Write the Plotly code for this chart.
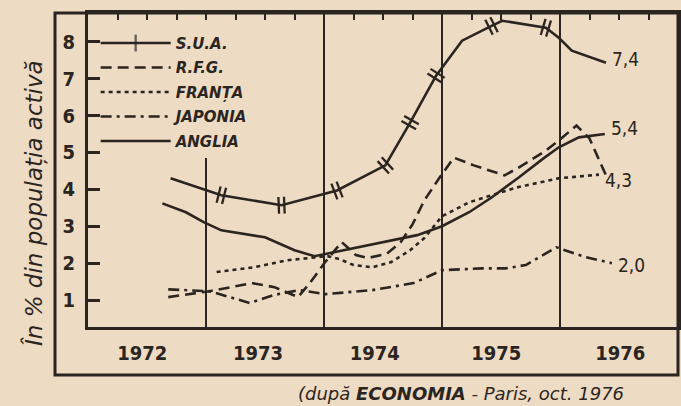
import math
import plotly.graph_objects as go

INK = "#2b2521"
PAPER = "#eedbc3"

# ---------------- data ----------------
usa_x = [1972.70, 1973.13, 1973.64, 1974.11, 1974.52, 1974.73, 1974.95, 1975.17,
         1975.42, 1975.51, 1975.88, 1975.99, 1976.10, 1976.39]
usa_y = [4.30, 3.84, 3.57, 3.97, 4.65, 5.81, 7.08, 8.03,
         8.43, 8.57, 8.38, 8.11, 7.76, 7.43]
usa_marks = [1, 2, 3, 4, 5, 6, 8, 10]   # vertices carrying the "||" sign

rfg_x = [1972.68, 1973.03, 1973.39, 1973.58, 1973.78, 1973.88, 1974.01, 1974.15,
         1974.27, 1974.37, 1974.53, 1974.65, 1974.75, 1974.85, 1974.98, 1975.10,
         1975.27, 1975.53, 1975.65, 1975.88, 1976.01, 1976.14, 1976.25, 1976.39]
rfg_y = [1.08, 1.24, 1.46, 1.35, 1.08, 1.46, 2.03, 2.57,
         2.22, 2.14, 2.25, 2.57, 3.05, 3.70, 4.32, 4.86,
         4.65, 4.38, 4.59, 5.05, 5.38, 5.73, 5.38, 4.38]

franta_x = [1973.09, 1973.41, 1973.69, 1973.90, 1974.03, 1974.13, 1974.25, 1974.41,
            1974.57, 1974.73, 1974.85, 1975.00, 1975.23, 1975.42, 1975.63, 1975.99,
            1976.33]
franta_y = [1.76, 1.89, 2.08, 2.16, 2.19, 2.11, 1.95, 1.89,
            2.03, 2.35, 2.68, 3.27, 3.65, 3.84, 4.05, 4.30,
            4.40]

japonia_x = [1972.68, 1973.03, 1973.37, 1973.58, 1973.79, 1974.01, 1974.41, 1974.76,
             1975.00, 1975.34, 1975.54, 1975.71, 1975.97, 1976.22, 1976.44]
japonia_y = [1.29, 1.24, 0.92, 1.14, 1.27, 1.16, 1.27, 1.46,
             1.81, 1.86, 1.86, 1.95, 2.43, 2.16, 2.00]

anglia_x = [1972.63, 1972.83, 1972.98, 1973.13, 1973.50, 1973.75, 1973.92, 1974.09,
            1974.33, 1974.57, 1974.79, 1975.00, 1975.23, 1975.42, 1975.65, 1975.86,
            1975.99, 1976.16, 1976.38]
anglia_y = [3.62, 3.38, 3.11, 2.89, 2.70, 2.35, 2.19, 2.30,
            2.46, 2.62, 2.76, 3.00, 3.38, 3.78, 4.32, 4.84,
            5.14, 5.41, 5.50]

end_labels = {"usa": "7,4", "anglia": "5,4", "franta": "4,3", "japonia": "2,0"}

year_labels = ["1972", "1973", "1974", "1975", "1976"]
year_label_pos = [1972.46, 1973.44, 1974.43, 1975.46, 1976.51]
year_bounds = [1974, 1975, 1976]
y_ticks = [1, 2, 3, 4, 5, 6, 7, 8]
quarter_ticks = [1972 + 0.25 * i for i in range(1, 20)]

y_title = "În % din populația activă"
source = "(după <b>ECONOMIA</b> - Paris, oct. 1976"

# ---------------- layout constants ----------------
W, H = 681, 406
M = dict(l=88, r=3, t=13, b=79, autoexpand=False)
PW = W - M["l"] - M["r"]
PH = H - M["t"] - M["b"]
X_RANGE = [1972, 1977]
Y_RANGE = [0.27, 8.78]
SX = PW / (X_RANGE[1] - X_RANGE[0])
SY = PH / (Y_RANGE[1] - Y_RANGE[0])

NUM_FONT = "DejaVu Sans Condensed, Roboto, DejaVu Sans"

fig = go.Figure()

LW = 2.6
series = [
    ("S.U.A.", usa_x, usa_y, "solid"),
    ("R.F.G.", rfg_x, rfg_y, "11px,6px"),
    ("FRANȚA", franta_x, franta_y, "4px,4px"),
    ("JAPONIA", japonia_x, japonia_y, "11px,5px,3px,5px"),
    ("ANGLIA", anglia_x, anglia_y, "solid"),
]
for i, (name, xs, ys, dash) in enumerate(series):
    if i == 0:
        # vertex markers scaled to nothing on the plot (huge sizeref);
        # the legend ignores sizeref, so its sample shows the bar sign
        kw = dict(mode="lines+markers",
                  marker=dict(symbol="line-ns", size=[12] * len(xs), sizeref=1e5,
                              line=dict(color=INK, width=2.3)))
    else:
        kw = dict(mode="lines")
    fig.add_trace(go.Scatter(
        x=xs, y=ys, name=name, legendgroup=name,
        line=dict(color=INK, width=LW, dash=dash),
        hoverinfo="skip", **kw,
    ))

# "||" signs on the S.U.A. curve, at the listed vertices
mx, my, ma = [], [], []
for k in usa_marks:
    dx = (usa_x[k + 1] - usa_x[k - 1]) * SX
    dy = (usa_y[k + 1] - usa_y[k - 1]) * SY
    phi = math.atan2(dy, dx)
    for s in (-2.8, 2.8):
        mx.append(usa_x[k] + s * math.cos(phi) / SX)
        my.append(usa_y[k] + s * math.sin(phi) / SY)
        ma.append(-math.degrees(phi))
fig.add_trace(go.Scatter(
    x=mx, y=my, mode="markers", showlegend=False, hoverinfo="skip",
    marker=dict(symbol="line-ns", size=12, angle=ma,
                line=dict(color=INK, width=2.3)),
))

# dummy trace for the top (quarter) axis
fig.add_trace(go.Scatter(x=[year_label_pos[0]], y=[None], xaxis="x2",
                         showlegend=False, hoverinfo="skip"))

shapes = []
for yr in year_bounds:
    shapes.append(dict(type="line", xref="x", yref="paper", x0=yr, x1=yr, y0=0, y1=1,
                       line=dict(color=INK, width=2)))
shapes.append(dict(type="line", xref="x", yref="y", x0=1973, x1=1973,
                   y0=Y_RANGE[0], y1=4.85, line=dict(color=INK, width=2)))
# outer frame around the chart and its axis labels
shapes.append(dict(type="rect", xref="paper", yref="paper",
                   x0=-33 / PW, x1=1, y0=-48 / PH, y1=1,
                   line=dict(color=INK, width=3)))

annotations = []
ends = {"usa": (usa_x, usa_y, 4), "anglia": (anglia_x, anglia_y, 6),
        "franta": (franta_x, franta_y, -5), "japonia": (japonia_x, japonia_y, -2)}
for key, (xs, ys, ysh) in ends.items():
    annotations.append(dict(x=xs[-1], y=ys[-1], xref="x", yref="y", text=end_labels[key],
                            showarrow=False, xanchor="left", yanchor="middle",
                            xshift=4, yshift=ysh,
                            font=dict(family=NUM_FONT, size=19, color=INK)))
annotations.append(dict(x=-54 / PW, y=(327 - 203) / PH, xref="paper", yref="paper",
                        text=y_title, textangle=-90, showarrow=False,
                        xanchor="center", yanchor="middle",
                        font=dict(family="DejaVu Sans", size=23, color=INK, style="italic")))
annotations.append(dict(x=(461 - 88) / PW, y=(327 - 393) / PH, xref="paper", yref="paper",
                        text=source, showarrow=False, xanchor="center", yanchor="middle",
                        font=dict(family="DejaVu Sans", size=18,
                                  color=INK, style="italic")))

fig.update_layout(
    width=W, height=H, margin=M,
    paper_bgcolor=PAPER, plot_bgcolor=PAPER,
    showlegend=True,
    legend=dict(x=0.013, y=0.956, xanchor="left", yanchor="top",
                bgcolor="rgba(0,0,0,0)", borderwidth=0,
                font=dict(family="DejaVu Sans", size=15, color=INK, style="italic",
                          weight="bold"),
                tracegroupgap=2, itemwidth=70),
    xaxis=dict(range=X_RANGE, tickvals=year_label_pos, ticktext=year_labels,
               ticks="", showgrid=False, zeroline=False, automargin=False,
               showline=True, linewidth=3, linecolor=INK, mirror=True,
               ticklabelstandoff=6,
               tickfont=dict(family=NUM_FONT, size=20, color=INK, weight="bold")),
    xaxis2=dict(range=X_RANGE, overlaying="x", side="top", anchor="y",
                tickvals=quarter_ticks, ticks="inside", ticklen=7, tickwidth=2,
                tickcolor=INK, showticklabels=False, showgrid=False, zeroline=False,
                showline=False, automargin=False),
    yaxis=dict(range=Y_RANGE, tickvals=y_ticks, ticks="inside", ticklen=12, tickwidth=2.5,
               tickcolor=INK, showgrid=False, zeroline=False, automargin=False,
               showline=True, linewidth=3, linecolor=INK, mirror=True,
               ticklabelstandoff=6,
               tickfont=dict(family=NUM_FONT, size=20, color=INK, weight="bold")),
    shapes=shapes, annotations=annotations,
)

# the page itself: no default body margin, paper-coloured background
page_js = ("document.body.style.margin='0';"
           "document.body.style.background='" + PAPER + "';")
fig.write_html("out.html", post_script=page_js, config={"displayModeBar": False})
